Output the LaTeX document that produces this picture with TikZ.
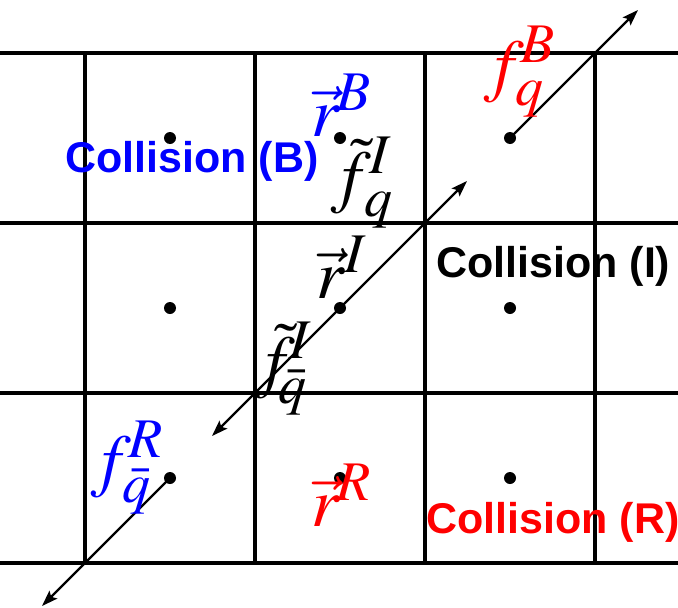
\documentclass[tikz,border=0pt]{standalone}
\usepackage{mathptmx}
\usepackage[no-math]{fontspec}
\newfontfamily\labfont{Liberation Sans}
\DeclareMathSizes{70}{70}{56}{44}
\usetikzlibrary{arrows.meta}
\definecolor{pblue}{RGB}{0,0,255}
\definecolor{pred}{RGB}{255,0,0}
\tikzset{
  gridline/.style={line width=3.4pt, black},
  dotnode/.style={circle, fill=black, inner sep=0pt, minimum size=12pt},
  vecline/.style={line width=2.2pt, black},
  tip/.style={-{Stealth[length=16pt,width=11pt,inset=3pt]}},
  colltext/.style={font=\labfont\bfseries\fontsize{43}{43}\selectfont, inner sep=0pt, anchor=base west},
  mathlab/.style={font=\fontsize{70}{70}\selectfont, inner sep=0pt, anchor=base west}
}
\begin{document}
\begin{tikzpicture}[x=1pt,y=-1pt]
\useasboundingbox (0,0) rectangle (678,608);
% grid
\foreach \yy in {53,223,393,563} \draw[gridline] (0,\yy) -- (678,\yy);
\foreach \xx in {85,255,425,595} \draw[gridline] (\xx,53) -- (\xx,563);
% dots
\node[dotnode] (d11) at (170,138) {};
\node[dotnode] (d12) at (340,138) {};
\node[dotnode] (d13) at (510,138) {};
\node[dotnode] (d21) at (170,308) {};
\node[dotnode] (d22) at (340,308) {};
\node[dotnode] (d23) at (510,308) {};
\node[dotnode] (d31) at (170,478) {};
\node[dotnode] (d32) at (340,478) {};
\node[dotnode] (d33) at (510,478) {};
% arrow ends
\coordinate (ea) at (638,10);
\coordinate (eb1) at (467,181);
\coordinate (eb2) at (212,436);
\coordinate (ec) at (42,606);
\draw[vecline,tip] (d13.center) -- (ea);
\draw[vecline,tip] (d22.center) -- (eb1);
\draw[vecline,tip] (d22.center) -- (eb2);
\draw[vecline,tip] (d31.center) -- (ec);
% collision labels
\node[colltext, text=pblue] (cb) at (65,172) {Collision (B)};
\node[colltext, text=black] (ci) at (436,277) {Collision (I)};
\node[colltext, text=pred] (cr) at (426,533) {Collision (R)};
% math labels
\node[mathlab, text=pred] (fqb) at (484,88) {$f_q^{\kern-4pt B}$};
\node[mathlab, text=pblue] (rb) at (311,136) {$\vec{r}^{\kern-4pt B}$};
\node[mathlab, text=black] (fqi) at (331,199) {$\tilde{f}_{\kern2pt q}^{\kern-2pt I}$};
\node[mathlab, text=black] (ri) at (316,298) {$\vec{r}^{\kern-1pt I}$};
\node[mathlab, text=black] (fqbi) at (255,384) {$\tilde{f}_{\kern-8pt\bar q}^{\kern-6pt I}$};
\node[mathlab, text=pblue] (fqbr) at (91,483) {$f_{\bar q}^{\kern-3pt R}$};
\node[mathlab, text=pred] (rr) at (311,526) {$\vec{r}^{\kern-4pt R}$};
\end{tikzpicture}
\end{document}
